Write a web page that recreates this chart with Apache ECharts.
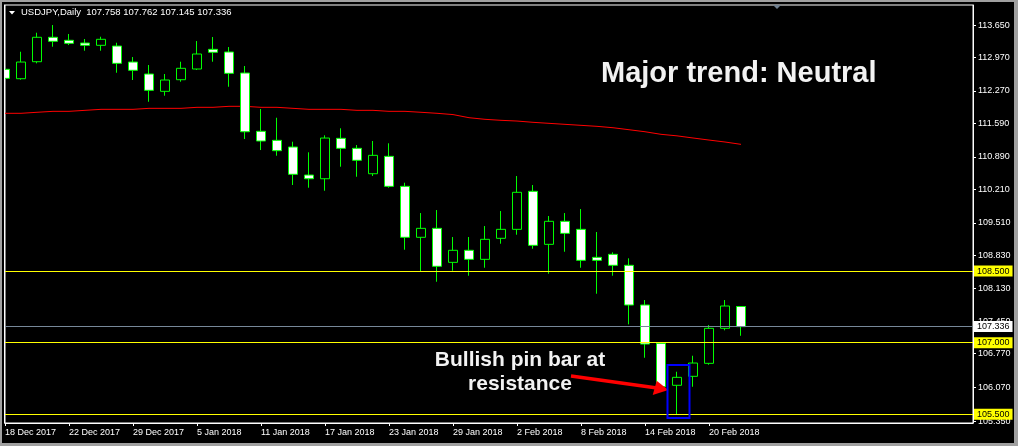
<!DOCTYPE html>
<html><head><meta charset="utf-8">
<script src="https://cdn.jsdelivr.net/npm/echarts@6/dist/echarts.min.js"></script>
<style>html,body{margin:0;padding:0;background:#000;}#c{width:1018px;height:446px;}</style>
</head><body><div id="c"></div>
<script>
const dates = ['18 Dec 2017','19 Dec 2017','20 Dec 2017','21 Dec 2017','22 Dec 2017','26 Dec 2017','27 Dec 2017','28 Dec 2017','29 Dec 2017',
 '2 Jan 2018','3 Jan 2018','4 Jan 2018','5 Jan 2018','8 Jan 2018','9 Jan 2018','10 Jan 2018','11 Jan 2018','12 Jan 2018',
 '15 Jan 2018','16 Jan 2018','17 Jan 2018','18 Jan 2018','19 Jan 2018','22 Jan 2018','23 Jan 2018','24 Jan 2018','25 Jan 2018',
 '26 Jan 2018','29 Jan 2018','30 Jan 2018','31 Jan 2018','1 Feb 2018','2 Feb 2018','5 Feb 2018','6 Feb 2018','7 Feb 2018',
 '8 Feb 2018','9 Feb 2018','12 Feb 2018','13 Feb 2018','14 Feb 2018','15 Feb 2018','16 Feb 2018','19 Feb 2018','20 Feb 2018',
 '21 Feb 2018','22 Feb 2018'];
const openV  = [112.723,112.526,112.882,113.393,113.330,113.273,113.225,113.210,112.875,112.624,112.262,112.505,112.729,113.141,113.085,112.645,
 111.425,111.236,111.096,110.510,110.432,111.278,111.069,110.537,110.901,110.273,109.206,109.394,108.682,108.934,108.745,109.185,109.373,
 110.169,109.059,109.541,109.373,108.787,108.850,108.620,107.789,106.987,106.108,106.296,106.568,107.301,107.758];
const closeV = [112.534,112.875,113.393,113.309,113.267,113.225,113.351,112.848,112.702,112.283,112.499,112.744,113.043,113.079,112.639,111.416,
 111.222,111.019,110.525,110.432,111.284,111.069,110.818,110.922,110.273,109.206,109.394,108.599,108.934,108.745,109.164,109.373,110.148,
 109.038,109.541,109.289,108.724,108.724,108.620,107.789,106.972,106.078,106.275,106.574,107.301,107.768,107.336];
const lowV   = [112.304,112.505,112.848,113.196,113.231,113.112,113.112,112.651,112.499,112.044,112.170,112.463,112.708,112.882,112.358,111.264,
 111.033,110.914,110.301,110.244,110.181,110.684,110.474,110.489,110.244,108.946,108.500,108.276,108.507,108.402,108.569,109.072,109.260,
 108.967,108.444,108.904,108.569,108.025,108.402,107.384,106.685,106.051,105.500,106.078,106.539,107.259,107.145];
const highV  = [112.848,113.091,113.489,113.650,113.462,113.357,113.405,113.279,112.980,112.813,112.624,112.882,113.315,113.399,113.189,112.792,
 111.892,111.709,111.207,110.985,111.341,111.488,111.138,111.222,111.174,110.349,109.714,109.777,109.212,109.212,109.442,109.756,110.489,
 110.301,109.652,109.714,109.798,109.317,108.892,108.766,107.893,106.987,106.392,106.727,107.370,107.893,107.762];
const maV    = [111.802,111.802,111.823,111.843,111.843,111.864,111.885,111.885,111.885,111.906,111.906,111.906,111.927,111.927,111.948,111.948,
 111.927,111.927,111.906,111.885,111.885,111.885,111.864,111.864,111.843,111.843,111.823,111.802,111.775,111.710,111.676,111.655,111.640,
 111.613,111.592,111.571,111.550,111.529,111.500,111.458,111.416,111.362,111.330,111.285,111.242,111.201,111.152];
const priceTicks = [113.65,112.97,112.27,111.59,110.89,110.21,109.51,108.83,108.13,107.45,106.77,106.07,105.35];
const dateTickIdx = [0,4,8,12,16,20,24,28,32,36,40,44];
const yellowLevels = ['108.500','107.000','105.500'];
const bidLevel = '107.336';
const headerText = 'USDJPY,Daily  107.758 107.762 107.145 107.336';
const trendText = 'Major trend: Neutral';
const noteLines = ['Bullish pin bar at','resistance'];

const candles = openV.map((o,i)=>[i,o,closeV[i],lowV[i],highV[i]]);
const ma = maV.map((v,i)=>[i,v]);
const font = '"Liberation Sans", Arial, sans-serif';

const chart = echarts.init(document.getElementById('c'), null, {renderer:'canvas'});
const lvlLabel = (bg,txt)=>({show:true,position:'end',distance:1,formatter:txt,
  backgroundColor:bg,color:'#000',fontFamily:font,fontSize:9,lineHeight:10,padding:[1,3,0,3]});
chart.setOption({
  animation:false,
  backgroundColor:'#000',
  grid:{left:5,top:5,right:45,bottom:23,show:true,backgroundColor:'#000',borderColor:'#fff',borderWidth:1},
  xAxis:{type:'value',min:0,max:60.5,
    axisLine:{onZero:false,lineStyle:{color:'#fff',width:1}},
    axisTick:{show:true,customValues:dateTickIdx,length:3,lineStyle:{color:'#fff'}},
    axisLabel:{customValues:dateTickIdx,formatter:v=>dates[Math.round(v)]||'',color:'#fff',fontFamily:font,fontSize:9,align:'left',margin:5},
    splitLine:{show:false}},
  yAxis:{type:'value',position:'right',min:105.319,max:114.069,
    axisLine:{show:true,onZero:false,lineStyle:{color:'#fff',width:1}},
    axisTick:{show:true,customValues:priceTicks,length:3,lineStyle:{color:'#fff'}},
    axisLabel:{customValues:priceTicks,formatter:v=>v.toFixed(3),color:'#fff',fontFamily:font,fontSize:9,margin:5},
    splitLine:{show:false}},
  series:[
    {type:'line',data:ma,showSymbol:false,symbol:'none',lineStyle:{color:'#ff0000',width:1},z:1},
    {type:'candlestick',data:candles,encode:{x:0,y:[1,2,3,4]},barWidth:10,z:3,clip:true,
      itemStyle:{color:'#000',color0:'#fff',borderColor:'#00ff00',borderColor0:'#00ff00',borderWidth:1},
      markLine:{silent:true,symbol:'none',animation:false,
        data:[
          ...yellowLevels.map(v=>({yAxis:parseFloat(v),lineStyle:{color:'#ffff00',width:1,type:'solid'},label:lvlLabel('#ffff00',v)})),
          {yAxis:parseFloat(bidLevel),lineStyle:{color:'#778899',width:1,type:'solid'},label:lvlLabel('#ffffff',bidLevel)}
        ]}}
  ],
  graphic:[
    {type:'rect',shape:{x:0,y:0,width:4,height:446},style:{fill:'#000'},z:90,silent:true},
    {type:'line',shape:{x1:4.5,y1:4.5,x2:4.5,y2:423.5},style:{stroke:'#fff',lineWidth:1},z:91,silent:true},
    {type:'rect',shape:{x:0,y:0,width:1018,height:2},style:{fill:'#a0a0a0'},z:92,silent:true},
    {type:'rect',shape:{x:0,y:0,width:2,height:446},style:{fill:'#a0a0a0'},z:92,silent:true},
    {type:'rect',shape:{x:1014,y:0,width:4,height:446},style:{fill:'#a0a0a0'},z:92,silent:true},
    {type:'rect',shape:{x:0,y:443,width:1018,height:3},style:{fill:'#a0a0a0'},z:92,silent:true},
    {type:'polygon',shape:{points:[[9,11],[15,11],[12,14.5]]},style:{fill:'#fff'},z:100},
    {type:'text',x:21,y:12.5,style:{text:headerText,fill:'#fff',font:'9.5px '+font,verticalAlign:'middle'},z:100},
    {type:'polygon',shape:{points:[[773,5],[781,5],[777,9]]},style:{fill:'#708090'},z:100},
    {type:'text',x:601,y:74,style:{text:trendText,fill:'#f2f2f2',font:'bold 29px '+font,verticalAlign:'middle'},z:100},
    {type:'text',x:520,y:360.6,style:{text:noteLines[0],fill:'#f2f2f2',font:'bold 21px '+font,align:'center',verticalAlign:'middle'},z:100},
    {type:'text',x:520,y:384.1,style:{text:noteLines[1],fill:'#f2f2f2',font:'bold 21px '+font,align:'center',verticalAlign:'middle'},z:100},
    {type:'line',shape:{x1:571,y1:376,x2:657,y2:388},style:{stroke:'#ff0000',lineWidth:3.5},z:100},
    {type:'polygon',shape:{points:[[656.7,380.7],[668.3,390],[652.7,395]]},style:{fill:'#ff0000'},z:100},
    {type:'rect',shape:{x:667.5,y:365,width:22,height:53},style:{fill:'none',stroke:'#0000ff',lineWidth:2},z:100}
  ]
});
</script></body></html>
